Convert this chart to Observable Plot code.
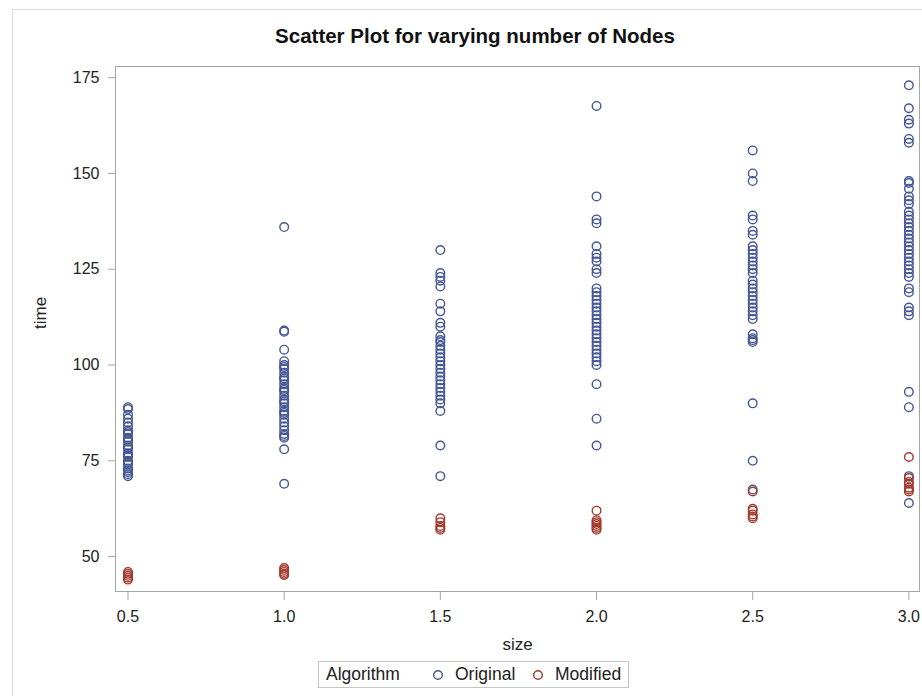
<!DOCTYPE html>
<html>
<head>
<meta charset="utf-8">
<script src="https://cdn.jsdelivr.net/npm/d3@7"></script>
<script src="https://cdn.jsdelivr.net/npm/@observablehq/plot@0.6"></script>
<style>
  html, body { margin: 0; padding: 0; background: #fff; }
  body { width: 922px; height: 696px; position: relative; overflow: hidden;
         font-family: "Liberation Sans", Arial, sans-serif; color: #222; }
  #outer { position: absolute; left: 12px; top: 9px; width: 940px; height: 720px;
           border: 1px solid #dcdcdc; box-sizing: border-box; }
  #title { position: absolute; left: 0; width: 950px; top: 24px; text-align: center;
           font-weight: bold; font-size: 20.5px; color: #111; }
  #chart { position: absolute; left: 0; top: 55px; }
  #legend { position: absolute; left: 318px; top: 661px; width: 311px; height: 27px;
            border: 1px solid #c6c6c6; box-sizing: border-box; font-size: 17.5px; }
  #legend span { position: absolute; top: 2px; white-space: nowrap; }
  #legend svg { position: absolute; top: 0; left: 0; }
</style>
</head>
<body>
<div id="outer"></div>
<div id="title"></div>
<div id="chart"></div>
<div id="legend"></div>
<script>
// ---- Data ----
const titleText = "Scatter Plot for varying number of Nodes";
const xLabel = "size";
const yLabel = "time";
const legendTitle = "Algorithm";
const algorithms = ["Original", "Modified"];
const algoColors = ["#445694", "#A23A2E"];
const sizeTicks = [0.5, 1.0, 1.5, 2.0, 2.5, 3.0];
const timeTicks = [50, 75, 100, 125, 150, 175];

const orig05 = [89, 88.5, 87, 86, 85, 84, 83, 82.5, 82, 81, 80.5, 80, 79, 78.5, 78, 77, 76.5, 76, 75, 74.5, 74, 73, 72.5, 72, 71.5, 71];
const mod05  = [46, 45.5, 45, 44.5, 44];
const orig10 = [136, 109, 108.7, 104, 101, 100, 99.5, 99, 98, 97, 96.5, 96, 95, 94, 93.5, 93, 92, 91, 90.5, 90, 89, 88, 87.5, 87, 86, 85, 84, 83, 82, 81.5, 81, 78, 69];
const mod10  = [47, 46.5, 46, 45.5, 45.2];
const orig15 = [130, 124, 123, 122, 120.5, 116, 114, 111, 110, 107.5, 106.5, 106, 105, 104, 103, 102, 101, 100, 99, 98, 97, 96, 95, 94, 93, 92, 91, 90, 88, 79, 71];
const mod15  = [60, 59, 58, 57.5, 57];
const orig20 = [167.6, 144, 138, 137, 131, 129, 128, 127, 125, 124, 120, 119, 118, 117, 116, 115, 114, 113, 112, 111, 110, 109, 108, 107, 106, 105, 104, 103, 102, 101, 100, 95, 86, 79];
const mod20  = [62, 59.5, 59, 58.5, 58, 57.5, 57];
const orig25 = [156, 150, 148, 139, 138, 135, 134, 131, 130, 129, 128, 127, 126, 125, 124, 122, 121, 120, 119, 118, 117, 116, 115, 114, 113, 112, 108, 107, 106.5, 106, 90, 75, 67.5];
const mod25  = [67, 62.5, 62, 61, 60.5, 60];
const orig30 = [173, 167, 164, 163, 159, 158, 148, 147.5, 146, 144, 143, 142, 140, 139, 138, 137, 136, 135, 134, 133, 132, 131, 130, 129, 128, 127, 126, 125, 124, 123, 120, 119, 115, 114, 113, 93, 89, 71, 64];
const mod30  = [76, 70.5, 69.5, 69, 68, 67.5, 67];

const groups = [
  [0.5, orig05, mod05],
  [1.0, orig10, mod10],
  [1.5, orig15, mod15],
  [2.0, orig20, mod20],
  [2.5, orig25, mod25],
  [3.0, orig30, mod30]
];

const data = [];
for (const [size, o, m] of groups) {
  for (const t of o) data.push({size, time: t, algorithm: algorithms[0]});
}
for (const [size, o, m] of groups) {
  for (const t of m) data.push({size, time: t, algorithm: algorithms[1]});
}

document.getElementById("title").textContent = titleText;

const gray = "#a5a5a5";
const chart = Plot.plot({
  width: 922,
  height: 602,
  marginLeft: 115,
  marginRight: 3,
  marginTop: 11,
  marginBottom: 66,
  style: {fontFamily: "'Liberation Sans', Arial, sans-serif", fontSize: "16px", color: "#222", background: "transparent", overflow: "visible"},
  x: {domain: [0.46, 3.034]},
  y: {domain: [40.9, 177.9]},
  color: {domain: algorithms, range: algoColors},
  marks: [
    Plot.frame({stroke: gray, strokeOpacity: 1}),
    Plot.axisX({ticks: sizeTicks, tickFormat: d => d.toFixed(1), tickSize: 9, tickPadding: 10, stroke: gray, fill: "#222", label: null}),
    Plot.axisY({ticks: timeTicks, tickSize: 7, tickPadding: 9, stroke: gray, fill: "#222", label: null}),
    Plot.text([yLabel], {frameAnchor: "left", dx: -75, rotate: -90, fontSize: 17, fill: "#222"}),
    Plot.text([xLabel], {frameAnchor: "bottom", dy: 58, fontSize: 17, fill: "#222"}),
    Plot.dot(data, {x: "size", y: "time", stroke: "algorithm", r: 4.3, strokeWidth: 1.4, fill: "none"})
  ]
});
document.getElementById("chart").appendChild(chart);

// ---- Legend ----
const legend = document.getElementById("legend");
const lt = document.createElement("span");
lt.textContent = legendTitle;
lt.style.left = "7px";
legend.appendChild(lt);
const svgNS = "http://www.w3.org/2000/svg";
const lsvg = document.createElementNS(svgNS, "svg");
lsvg.setAttribute("width", 311);
lsvg.setAttribute("height", 27);
legend.appendChild(lsvg);
const itemX = [119, 219];
algorithms.forEach((a, i) => {
  const c = document.createElementNS(svgNS, "circle");
  c.setAttribute("cx", itemX[i]);
  c.setAttribute("cy", 13);
  c.setAttribute("r", 4.3);
  c.setAttribute("fill", "none");
  c.setAttribute("stroke", algoColors[i]);
  c.setAttribute("stroke-width", 1.4);
  lsvg.appendChild(c);
  const s = document.createElement("span");
  s.textContent = a;
  s.style.left = (itemX[i] + 17) + "px";
  legend.appendChild(s);
});
</script>
</body>
</html>
